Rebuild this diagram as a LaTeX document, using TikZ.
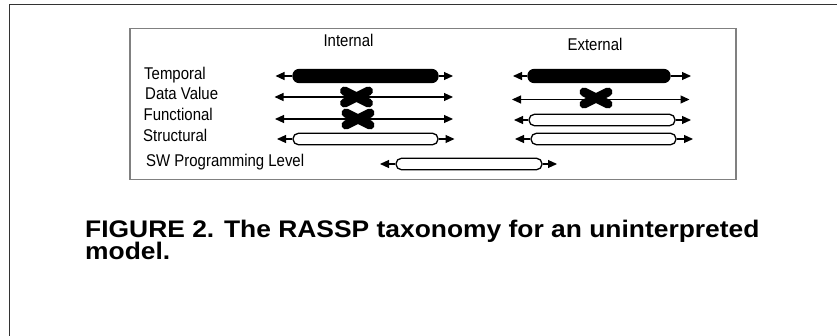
\documentclass[tikz,border=0pt]{standalone}
\usepackage{fontspec}
\setmainfont{Liberation Sans}
\newfontfamily\labelfont[FakeStretch=0.88]{Liberation Sans}
\newfontfamily\capfont[FakeStretch=1.1]{Liberation Sans}
\usetikzlibrary{arrows.meta}

\tikzset{
  lbl/.style={inner sep=0pt, anchor=base west, font=\labelfont\fontsize{17}{19}\selectfont},
  head/.style={inner sep=0pt, anchor=base, font=\labelfont\fontsize{17}{19}\selectfont},
  captxt/.style={inner sep=0pt, anchor=base west, font=\capfont\bfseries\fontsize{24}{26}\selectfont},
  tip/.style={-{Triangle[length=9pt,width=8pt]}, line width=1.1pt},
  bothtips/.style={{Triangle[length=9pt,width=8pt]}-{Triangle[length=9pt,width=8pt]}, line width=1.1pt},
  solidbar/.style={draw, fill=black, line width=1.2pt, rectangle, rounded corners=6pt,
    minimum height=13pt, inner sep=0pt},
  openbar/.style={draw, fill=white, line width=1.3pt, rectangle, rounded corners=5.5pt,
    minimum height=11.5pt, inner sep=0pt},
  crossmark/.style={inner sep=0pt, minimum width=36pt, minimum height=24pt,
    path picture={
      \draw[line width=9pt, line cap=round]
        ([shift={(-12pt,-6pt)}]path picture bounding box.center) --
        ([shift={(12pt,6pt)}]path picture bounding box.center);
      \draw[line width=9pt, line cap=round]
        ([shift={(-12pt,6pt)}]path picture bounding box.center) --
        ([shift={(12pt,-6pt)}]path picture bounding box.center);
    }},
}

\begin{document}
\begin{tikzpicture}[x=1pt, y=-1pt]
\useasboundingbox (0,0) rectangle (837,336);

% page frame
\draw[line width=1.6pt, black!80] (9.5,336) -- (9.5,4.5) -- (837,4.5);

% figure box
\draw[line width=1.4pt, black!50] (130,28.5) rectangle (736,179.5);

% column headings
\node[head] (hint) at (348.5,47) {Internal};
\node[head] (hext) at (595,50.5) {External};

% row labels
\node[lbl] (ltemp) at (144,79.5) {Temporal};
\node[lbl] (ldata) at (145,99.5) {Data Value};
\node[lbl] (lfunc) at (143.5,121) {Functional};
\node[lbl] (lstru) at (143,141.5) {Structural};
\node[lbl] (lsw)   at (146,167) {SW Programming Level};

% ---- internal column ----
% temporal
\coordinate (tIl) at (275.5,76);
\coordinate (tIr) at (453,76);
\node[solidbar, minimum width=145pt] (tI) at (365.5,76) {};
\draw[tip] (tI.west) -- (tIl);
\draw[tip] (tI.east) -- (tIr);

% data value
\coordinate (dIl) at (274.5,97);
\coordinate (dIr) at (453,97);
\draw[bothtips] (dIl) -- (dIr);
\node[crossmark] (dI) at (356.5,97) {};

% functional
\coordinate (fIl) at (275,119);
\coordinate (fIr) at (453,119);
\draw[bothtips] (fIl) -- (fIr);
\node[crossmark] (fI) at (358,119) {};

% structural
\coordinate (sIl) at (277,139);
\coordinate (sIr) at (454.5,139);
\node[openbar, minimum width=145pt] (sI) at (365.5,139) {};
\draw[tip] (sI.west) -- (sIl);
\draw[tip] (sI.east) -- (sIr);

% ---- external column ----
% temporal
\coordinate (tEl) at (513,76);
\coordinate (tEr) at (691,76);
\node[solidbar, minimum width=142pt] (tE) at (599,76) {};
\draw[tip] (tE.west) -- (tEl);
\draw[tip] (tE.east) -- (tEr);

% data value
\coordinate (dEl) at (512,99.5);
\coordinate (dEr) at (689.5,99.5);
\draw[bothtips] (dEl) -- (dEr);
\node[crossmark] (dE) at (596,98) {};

% functional
\coordinate (fEl) at (514,120);
\coordinate (fEr) at (691,120);
\node[openbar, minimum width=146pt] (fE) at (602,120) {};
\draw[tip] (fE.west) -- (fEl);
\draw[tip] (fE.east) -- (fEr);

% structural
\coordinate (sEl) at (515,139);
\coordinate (sEr) at (693,139);
\node[openbar, minimum width=145pt] (sE) at (603.5,139) {};
\draw[tip] (sE.west) -- (sEl);
\draw[tip] (sE.east) -- (sEr);

% ---- SW programming level ----
\coordinate (swl) at (380,164);
\coordinate (swr) at (557,164);
\node[openbar, minimum width=146pt] (sw) at (469,164) {};
\draw[tip] (sw.west) -- (swl);
\draw[tip] (sw.east) -- (swr);

% caption
\node[captxt] (cap1) at (85,238) {FIGURE 2. The RASSP taxonomy for an uninterpreted};
\node[captxt] (cap2) at (85,260) {model.};
\end{tikzpicture}
\end{document}
